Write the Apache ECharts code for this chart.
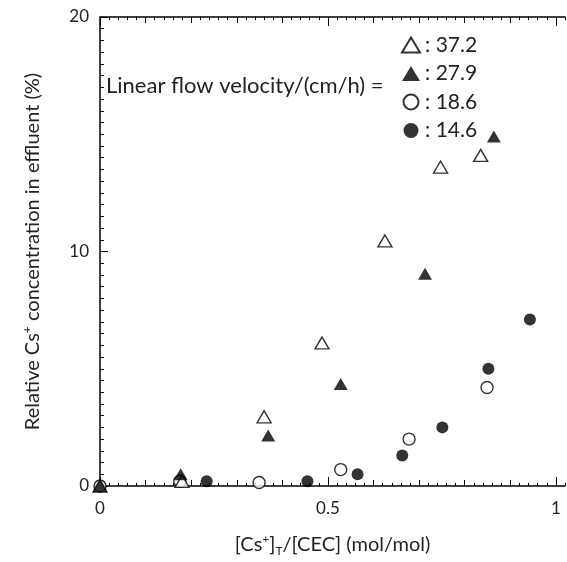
<!DOCTYPE html>
<html>
<head>
<meta charset="utf-8">
<script src="https://cdn.jsdelivr.net/npm/echarts@6/dist/echarts.min.js"></script>
<style>
html,body{margin:0;padding:0;background:#fff;}
#chart{width:567px;height:562px;}
</style>
</head>
<body>
<div id="chart"></div>
<script>
// ---- data ----
const seriesNames = ['37.2', '27.9', '18.6', '14.6'];
const v372 = [[0, 0], [0.18, 0.2], [0.36, 2.95], [0.487, 6.1], [0.625, 10.45], [0.747, 13.6], [0.835, 14.1]];
const v279 = [[0, 0], [0.177, 0.5], [0.369, 2.15], [0.528, 4.35], [0.713, 9.05], [0.864, 14.9]];
const v186 = [[0, 0], [0.175, 0.2], [0.349, 0.15], [0.528, 0.7], [0.678, 2.0], [0.849, 4.2]];
const v146 = [[0, 0], [0.234, 0.2], [0.455, 0.2], [0.565, 0.5], [0.663, 1.3], [0.751, 2.5], [0.852, 5.0], [0.943, 7.1]];
const xTickLabels = [0, 0.5, 1];
const xMidTicks = [0, 0.1, 0.2, 0.3, 0.4, 0.5, 0.6, 0.7, 0.8, 0.9, 1];
const yTickLabels = [0, 10, 20];

const FONT = 'Lato';
const black = '#000';
const txt = '#222';

const chart = echarts.init(document.getElementById('chart'), null, {renderer: 'canvas'});

function xAxes(pos) {
  const common = {
    type: 'value', position: pos, min: 0, max: 1.02,
    splitLine: {show: false},
    axisLine: {show: false, onZero: false},
  };
  return [
    Object.assign({}, common, {
      interval: 0.02,
      axisLine: {show: true, onZero: false, lineStyle: {color: black, width: 1.5}},
      axisTick: {show: true, inside: true, length: 3, lineStyle: {color: black, width: 1}},
      axisLabel: {show: false}
    }),
    Object.assign({}, common, {
      interval: 0.1,
      axisTick: {show: true, inside: true, length: 6, customValues: xMidTicks, lineStyle: {color: black, width: 1}},
      axisLabel: {show: false}
    }),
    Object.assign({}, common, {
      interval: 0.5,
      axisTick: {show: true, inside: true, length: 9, customValues: xTickLabels, lineStyle: {color: black, width: 1}},
      axisLabel: pos === 'bottom' ? {
        show: true, customValues: xTickLabels, margin: 14, fontFamily: FONT, fontSize: 17, color: txt,
        formatter: function (v) { return xTickLabels.indexOf(v) >= 0 ? String(v) : ''; }
      } : {show: false},
      name: pos === 'bottom' ? '{n|[Cs}{sup|+}{n|]}{sub|T}{n|/[CEC] (mol/mol)}' : '',
      nameLocation: 'middle',
      nameGap: 47,
      nameTextStyle: {
        fontFamily: FONT, fontSize: 20, color: txt,
        rich: {
          n: {fontFamily: FONT, fontSize: 20, color: txt, lineHeight: 24},
          sup: {fontFamily: FONT, fontSize: 12, color: txt, verticalAlign: 'top', lineHeight: 24},
          sub: {fontFamily: FONT, fontSize: 12, color: txt, verticalAlign: 'bottom', lineHeight: 20}
        }
      }
    })
  ];
}

const triSize = [14, 12];
const circSize = 12;
const openStyle = {color: '#fff', borderColor: black, borderWidth: 1.4};
const fillStyle = {color: black, borderColor: black, borderWidth: 0};

const option = {
  backgroundColor: '#fff',
  animation: false,
  grid: {left: 100, right: 2, top: 17, bottom: 69, containLabel: false},
  xAxis: xAxes('bottom').concat(xAxes('top')),
  yAxis: [{
    type: 'value', position: 'left', min: 0, max: 20, interval: 10,
    axisLine: {show: true, onZero: false, lineStyle: {color: black, width: 1.5}},
    axisTick: {show: true, inside: true, length: 8, lineStyle: {color: black, width: 1}},
    minorTick: {show: true, splitNumber: 20, length: 4, lineStyle: {color: black, width: 1}},
    splitLine: {show: false},
    axisLabel: {show: true, margin: 11, fontFamily: FONT, fontSize: 17, color: txt,
      formatter: function (v) { return yTickLabels.indexOf(v) >= 0 ? String(v) : ''; }},
    name: '{n|Relative Cs}{sup|+}{n| concentration in effluent (%)}',
    nameLocation: 'middle',
    nameGap: 55,
    nameTextStyle: {
      fontFamily: FONT, fontSize: 20, color: txt,
      rich: {
        n: {fontFamily: FONT, fontSize: 20, color: txt, lineHeight: 24},
        sup: {fontFamily: FONT, fontSize: 12, color: txt, verticalAlign: 'top', lineHeight: 24}
      }
    }
  }],
  legend: {
    orient: 'vertical',
    left: 396, top: 29,
    itemGap: 6.5,
    itemWidth: 18, itemHeight: 15,
    formatter: function (name) { return ': ' + name; },
    textStyle: {fontFamily: FONT, fontSize: 21, lineHeight: 22, color: txt},
    data: seriesNames,
    selectedMode: false
  },
  graphic: [{
    type: 'text', x: 106, y: 86,
    style: {text: 'Linear flow velocity/(cm/h) =', fontFamily: FONT, fontSize: 22, fill: txt, verticalAlign: 'middle'}
  }],
  series: [
    {name: seriesNames[3], type: 'scatter', data: v146, symbol: 'circle', symbolSize: circSize, itemStyle: fillStyle, z: 2},
    {name: seriesNames[2], type: 'scatter', data: v186, symbol: 'circle', symbolSize: circSize, itemStyle: openStyle, z: 3},
    {name: seriesNames[0], type: 'scatter', data: v372, symbol: 'triangle', symbolSize: triSize, itemStyle: openStyle, z: 4},
    {name: seriesNames[1], type: 'scatter', data: v279, symbol: 'triangle', symbolSize: triSize, itemStyle: fillStyle, z: 5}
  ]
};
chart.setOption(option);
</script>
</body>
</html>
